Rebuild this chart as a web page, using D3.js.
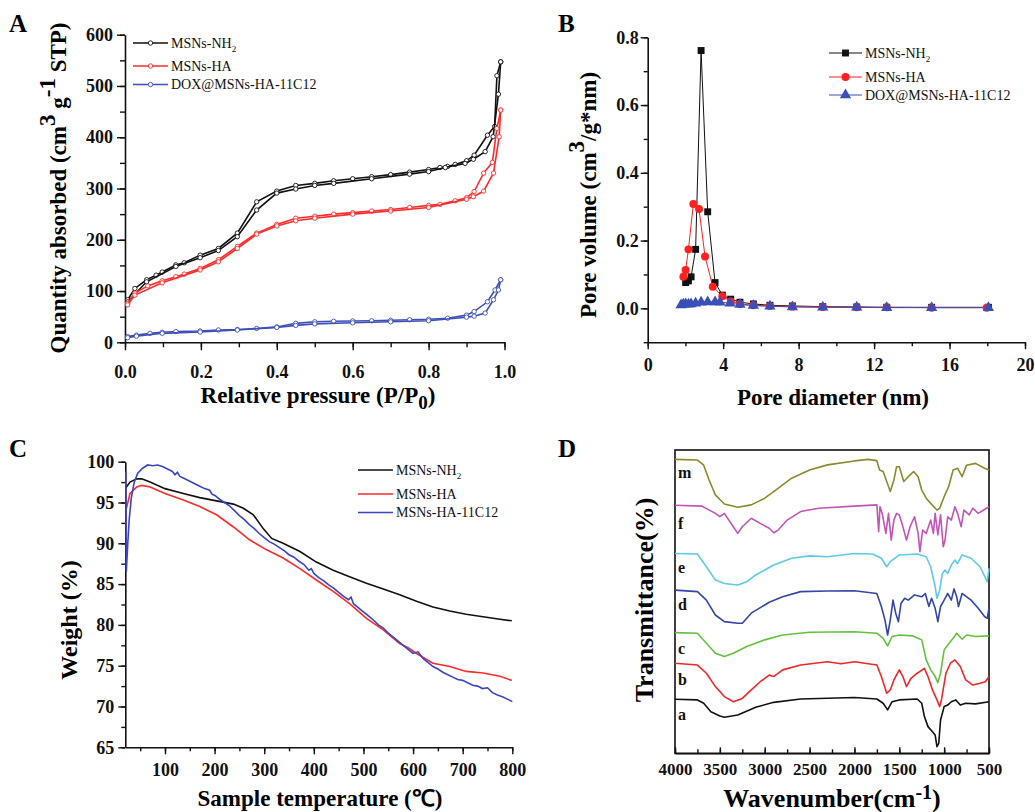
<!DOCTYPE html>
<html>
<head>
<meta charset="utf-8">
<script src="https://cdn.jsdelivr.net/npm/d3@7"></script>
<style>
  body { margin: 0; background: #fff; }
  text { font-family: "Liberation Serif", "Times New Roman", serif; }
</style>
</head>
<body>
<div id="fig"></div>
<script>
// ---------- data: panel A (N2 isotherms, [P/P0, quantity]) ----------
var nh2Ads = [[0.007,83],[0.026,105],[0.057,122],[0.082,131],[0.098,137],[0.134,151],[0.156,155],[0.198,170],[0.246,183],[0.296,213],[0.347,274],[0.4,295],[0.45,306],[0.5,310],[0.55,315],[0.6,319],[0.65,323],[0.7,327],[0.75,332],[0.8,337],[0.83,341],[0.85,343],[0.87,347],[0.9,354],[0.92,365],[0.955,404],[0.974,421],[0.98,520],[0.99,547]];
var nh2Des = [[0.99,547],[0.984,484],[0.97,401],[0.949,372],[0.918,357],[0.896,349],[0.844,341],[0.8,333],[0.75,328],[0.65,319],[0.55,310],[0.5,306],[0.45,299],[0.4,291],[0.347,258],[0.296,206],[0.246,179],[0.198,165],[0.134,148],[0.057,118],[0.007,79]];
var haAds = [[0.007,76],[0.026,96],[0.06,110],[0.098,120],[0.134,128],[0.156,133],[0.198,144],[0.246,161],[0.296,187],[0.347,213],[0.4,230],[0.45,242],[0.5,246],[0.55,250],[0.6,253],[0.65,256],[0.7,259],[0.75,263],[0.8,267],[0.83,269],[0.87,276],[0.9,282],[0.92,294],[0.945,330],[0.968,351],[0.98,417],[0.99,453]];
var haDes = [[0.99,453],[0.986,401],[0.971,330],[0.945,295],[0.918,284],[0.9,279],[0.8,263],[0.7,256],[0.6,250],[0.5,242],[0.45,237],[0.4,227],[0.347,211],[0.296,183],[0.246,157],[0.198,141],[0.098,116],[0.026,92],[0.007,73]];
var doxAds = [[0.007,11],[0.03,14],[0.066,17.5],[0.098,19.5],[0.134,21],[0.198,22],[0.246,24],[0.296,25],[0.347,27],[0.4,30],[0.45,37],[0.5,40],[0.55,41],[0.6,41.6],[0.65,42],[0.7,43],[0.75,44],[0.8,45],[0.85,47],[0.9,53],[0.92,60],[0.955,79],[0.975,102],[0.99,122]];
var doxDes = [[0.99,122],[0.984,102],[0.971,83],[0.949,57],[0.92,51],[0.9,49],[0.8,42],[0.7,40],[0.6,38],[0.5,36],[0.45,33],[0.4,29],[0.296,24],[0.198,20],[0.098,17.5],[0.03,12],[0.007,9]];

// ---------- data: panel B (pore size distribution, [nm, cm3/g*nm]) ----------
var psdNH2 = [[2.01,0.076],[2.16,0.081],[2.3,0.093],[2.54,0.174],[2.83,0.761],[3.18,0.285],[3.57,0.076],[3.96,0.039],[4.4,0.027],[4.89,0.018],[5.6,0.013],[6.48,0.009],[7.67,0.007],[9.28,0.005],[11.08,0.004],[12.67,0.003],[15.05,0.003],[18.06,0.003]];
var psdHA = [[1.89,0.093],[2.01,0.113],[2.16,0.174],[2.42,0.308],[2.72,0.293],[3.04,0.153],[3.45,0.064],[3.96,0.036],[4.4,0.02],[4.89,0.013],[5.6,0.009],[6.48,0.007],[7.67,0.005],[9.28,0.004],[11.08,0.003],[12.67,0.003],[15.05,0.002],[17.97,0.002]];
var psdDOX = [[1.77,0.01],[1.89,0.012],[2.01,0.013],[2.16,0.012],[2.3,0.013],[2.54,0.015],[2.83,0.018],[3.18,0.019],[3.57,0.019],[3.83,0.018],[4.36,0.015],[4.89,0.011],[5.6,0.008],[6.48,0.006],[7.67,0.004],[9.28,0.003],[11.08,0.003],[12.67,0.002],[15.05,0.002],[18.06,0.002]];

// ---------- data: panel C (TGA, [deg C, weight %]) ----------
var tgaNH2 = [[21.5,96.85],[29.5,97.5],[43,97.9],[53,97.9],[70,97.5],[100,96.7],[137,96.1],[170,95.6],[204,95.2],[238,94.8],[258,94.3],[278,93.5],[298,91.8],[315,90.6],[338,90.0],[372,89.0],[405,87.7],[439,86.7],[472,85.9],[506,85.1],[540,84.4],[573,83.7],[607,82.9],[640,82.2],[674,81.7],[707,81.3],[741,81.0],[775,80.7],[799,80.5]];
var tgaHA = [[21.5,94.1],[29.5,96.1],[43,96.9],[53,97.1],[70,96.9],[100,96.1],[137,95.3],[170,94.5],[204,93.5],[238,92.0],[271,90.4],[305,89.2],[338,88.2],[372,86.9],[405,85.5],[439,84.1],[472,82.6],[506,80.8],[540,79.4],[573,77.7],[590,77.2],[607,76.5],[640,75.3],[674,74.9],[707,74.3],[741,74.1],[775,73.7],[799,73.2]];
var tgaC12 = [[21,98.8],[22,86.5],[25,90],[28,93],[32,95.5],[38,97.5],[45,98.6],[55,99.2],[65,99.6],[75,99.5],[85,99.6],[95,99.4],[105,99.1],[115,98.8],[120,98.4],[125,98.7],[130,98.2],[140,97.9],[150,97.6],[160,97.3],[170,97.0],[180,96.7],[190,96.5],[195,96.0],[200,95.9],[210,95.4],[220,95.0],[230,94.6],[240,94.0],[250,93.4],[260,92.9],[270,92.3],[280,91.8],[290,91.2],[300,90.7],[310,90.2],[320,89.9],[330,89.5],[340,89.1],[350,88.6],[360,88.3],[370,87.8],[380,87.4],[390,86.7],[395,86.9],[400,86.3],[410,85.8],[420,85.4],[430,84.9],[440,84.5],[450,84.0],[460,83.5],[470,83.1],[475,83.4],[480,82.6],[490,82.1],[500,81.6],[510,81.1],[520,80.6],[530,80.0],[540,79.6],[550,79.0],[560,78.5],[570,78.0],[580,77.5],[590,77.0],[600,76.5],[610,76.7],[620,75.9],[630,75.4],[640,74.9],[650,74.6],[660,74.2],[670,73.9],[680,73.6],[690,73.3],[700,73.2],[710,72.9],[720,72.6],[730,72.5],[740,72.2],[750,72.3],[760,71.7],[770,71.4],[780,71.2],[790,70.9],[800,70.6]];

// ---------- data: panel D (FTIR, [wavenumber, offset transmittance]) ----------
var irM = [[4000,96.9],[3750,96.7],[3680,95],[3620,90.1],[3550,85.2],[3450,82.2],[3300,81.1],[3150,81.9],[3000,84.1],[2900,86.3],[2800,88.5],[2700,90.7],[2500,93.4],[2300,95.1],[2000,96.4],[1850,96.9],[1750,96.5],[1720,93.4],[1680,92.9],[1640,89.6],[1600,86.3],[1560,90.1],[1530,94.5],[1500,94.5],[1450,89.6],[1400,91.2],[1340,92.9],[1290,91.2],[1250,86.8],[1200,84.1],[1150,82.4],[1080,80.2],[1050,80.8],[1000,84.6],[950,87.9],[900,93.4],[850,94],[800,91.2],[750,95],[650,95.6],[550,94],[500,93.4]];
var irF = [[4000,81.8],[3700,81.5],[3550,79.1],[3500,78],[3450,79.1],[3350,74.7],[3300,72.5],[3250,74.7],[3150,77.5],[3050,75.8],[2950,74.2],[2900,72.7],[2850,73.6],[2750,76.9],[2600,79.7],[2400,80.8],[2000,81.5],[1750,81.9],[1730,73.1],[1715,81.3],[1690,79.1],[1650,72.5],[1620,79.1],[1590,70.3],[1560,76.9],[1530,79.1],[1500,78.6],[1470,75.8],[1420,70.3],[1380,74.7],[1330,78],[1290,72.5],[1270,66.5],[1240,73.6],[1200,72.5],[1150,76.9],[1120,72.5],[1100,79.1],[1070,72],[1040,78.6],[1010,68.1],[990,70.3],[960,78],[920,76.9],[880,81.3],[850,79.1],[810,74.7],[780,80.2],[720,78.6],[680,80.8],[620,79.1],[560,80.2],[500,81.3]];
var irE = [[4000,65.9],[3750,65.7],[3650,61.5],[3550,57.1],[3450,56],[3300,55.5],[3200,56.6],[3100,58.8],[2900,62.1],[2700,64.3],[2500,65.1],[2300,64.8],[2000,65.9],[1800,65.7],[1700,64.3],[1640,61.5],[1600,63.2],[1500,65.4],[1300,65.7],[1200,64.8],[1150,61.5],[1100,54.9],[1080,51.1],[1050,53.8],[1020,59.3],[990,60.4],[960,59.3],[920,62.1],[880,63.7],[850,62.6],[800,65.4],[700,64.3],[600,61.5],[520,56.6],[500,61]];
var irD = [[4000,53.8],[3750,53.3],[3650,50.5],[3550,45.6],[3450,43.4],[3300,42.9],[3250,42.9],[3150,46.2],[3000,48.9],[2950,49.8],[2800,51.6],[2600,53.3],[2300,53.5],[2000,53.6],[1750,52.7],[1700,48.4],[1660,44],[1630,39],[1600,44],[1570,50.5],[1540,46.2],[1510,43.4],[1480,49.5],[1440,51.1],[1400,50.5],[1330,52.2],[1250,51.6],[1210,52.7],[1170,48.4],[1140,51.1],[1100,47.8],[1070,43.4],[1040,48.4],[1000,50.5],[960,52.7],[920,50.5],[890,54.2],[860,51.6],[840,48.4],[800,52.7],[700,50.5],[620,47.8],[550,45.1],[520,44.5],[500,47.8]];
var irC = [[4000,39.8],[3750,39.6],[3650,36.3],[3550,33],[3450,31.9],[3350,33],[3200,35.2],[3000,37.4],[2800,39],[2500,39.9],[2000,40.1],[1750,39.6],[1680,37.9],[1630,35.4],[1580,38.5],[1500,39],[1350,38.7],[1250,37.4],[1200,30.8],[1150,27.5],[1100,25.3],[1070,23.3],[1040,26.4],[1000,34.1],[960,35.7],[900,37.9],[860,39.6],[800,37.6],[750,39],[650,38.5],[500,38.7]];
var irB = [[4000,29.7],[3750,29.1],[3650,26.4],[3550,22],[3450,18.7],[3350,17],[3250,18.1],[3150,20.9],[3050,23.6],[2950,25.8],[2900,25.3],[2800,27.5],[2600,29.1],[2300,30.2],[2150,29.5],[2000,30.2],[1750,29.1],[1700,25.3],[1640,19.8],[1600,20.9],[1560,24.2],[1500,27.5],[1460,25.3],[1420,22],[1370,24.7],[1300,26.4],[1220,28],[1180,25.3],[1130,20.9],[1080,17.6],[1050,15.4],[1030,17.6],[980,26.4],[930,29.7],[880,30.8],[820,28.6],[760,24.2],[680,22.5],[600,23.1],[540,23.6],[500,25.3]];
var irA = [[4000,17.8],[3750,17.6],[3680,16.5],[3600,13.7],[3500,12.3],[3450,11.9],[3300,12.6],[3100,15.2],[2900,16.8],[2600,17.9],[2000,18.4],[1750,17.9],[1680,16.5],[1630,14.3],[1580,17.0],[1500,17.6],[1300,17.9],[1250,16.5],[1220,12.1],[1180,8.8],[1130,7.1],[1100,6],[1080,2.2],[1060,3.3],[1040,11],[1000,15.4],[960,15.9],[920,17],[870,17.6],[820,15.9],[760,16.5],[650,16.3],[500,17]];

var irLabels = ["m", "f", "e", "d", "c", "b", "a"];
var irSeries = [irM, irF, irE, irD, irC, irB, irA];
var irColors = ["#8a8a2e", "#c255b6", "#5ccbe3", "#3545a8", "#64c040", "#f02828", "#111111"];

var svg = d3.select("#fig").append("svg")
  .attr("width", 1035)
  .attr("height", 812);

svg.append("rect").attr("width", 1035).attr("height", 812).attr("fill", "#fff");

// draws one axis with major + minor ticks
function addAxis(orient, scale, major, minor, o) {
  var mk = orient === "bottom" ? d3.axisBottom : d3.axisLeft;
  var gMin = svg.append("g").attr("transform", o.t)
    .call(mk(scale).tickValues(minor).tickSize(o.minor).tickSizeOuter(0).tickFormat(""));
  gMin.select(".domain").remove();
  var gMaj = svg.append("g").attr("transform", o.t)
    .call(mk(scale).tickValues(major).tickSize(o.major).tickSizeOuter(0).tickPadding(o.pad).tickFormat(o.fmt));
  svg.selectAll("g .tick line").attr("stroke-width", 1.4).attr("stroke", "#111");
  gMaj.select(".domain").attr("stroke-width", 1.6).attr("stroke", "#111");
  gMaj.selectAll("text")
    .attr("font-family", '"Liberation Serif", "Times New Roman", serif')
    .attr("font-weight", "bold")
    .attr("font-size", o.fs)
    .attr("fill", "#111");
  return gMaj;
}

function panelLabel(txt, x, y) {
  svg.append("text").attr("x", x).attr("y", y)
    .attr("font-size", 25).attr("font-weight", "bold").text(txt);
}

// text made of parts: [string, dy shift, font size]
function richText(x, y, parts, size, rotate) {
  var t = svg.append("text")
    .attr("font-size", size).attr("font-weight", "bold")
    .attr("text-anchor", "middle");
  if (rotate) t.attr("transform", "translate(" + x + "," + y + ") rotate(-90)");
  else t.attr("x", x).attr("y", y);
  var shift = 0;
  parts.forEach(function(p) {
    var dy = (p[1] || 0) - shift;
    shift = p[1] || 0;
    var s = t.append("tspan").attr("dy", dy).text(p[0]);
    if (p[2]) s.attr("font-size", p[2]);
  });
  return t;
}

function legendRow(x0, x1, y, color, label, sub, marker, lw) {
  svg.append("line").attr("x1", x0).attr("x2", x1).attr("y1", y).attr("y2", y)
    .attr("stroke", color).attr("stroke-width", lw || 1);
  if (marker) marker((x0 + x1) / 2, y);
  var t = svg.append("text").attr("x", x1 + 3).attr("y", y).attr("dy", "0.35em")
    .attr("font-size", 14).attr("fill", "#111").text(label);
  if (sub) t.append("tspan").attr("dy", 4).attr("font-size", 9).text(sub);
}

// ================= Panel A =================
var xA = d3.scaleLinear().domain([0, 1]).range([125, 504.5]);
var yA = d3.scaleLinear().domain([0, 600]).range([342.3, 34.7]);

addAxis("bottom", xA, d3.range(0, 1.01, 0.2), d3.range(0, 1.01, 0.1),
  { t: "translate(0,342.3)", major: 8, minor: 5, pad: 15, fmt: d3.format(".1f"), fs: 18 });
addAxis("left", yA, d3.range(0, 601, 100), d3.range(0, 601, 50),
  { t: "translate(125,0)", major: 8, minor: 5, pad: 4, fmt: d3.format("d"), fs: 18 });

var lineA = d3.line().x(d => xA(d[0])).y(d => yA(d[1]));
var isoSets = [
  { data: [nh2Ads, nh2Des], color: "#111111" },
  { data: [haAds, haDes], color: "#ff2b2b" },
  { data: [doxAds, doxDes], color: "#3f4fb8" }
];
isoSets.forEach(function(s) {
  s.data.forEach(function(branch) {
    svg.append("path").datum(branch).attr("d", lineA)
      .attr("fill", "none").attr("stroke", s.color).attr("stroke-width", 1.6);
    svg.append("g").selectAll("circle").data(branch).enter().append("circle")
      .attr("cx", d => xA(d[0])).attr("cy", d => yA(d[1])).attr("r", 2.2)
      .attr("fill", "#fff").attr("stroke", s.color).attr("stroke-width", 0.9);
  });
});

function openCircle(color) {
  return function(cx, cy) {
    svg.append("circle").attr("cx", cx).attr("cy", cy).attr("r", 2.2)
      .attr("fill", "#fff").attr("stroke", color).attr("stroke-width", 0.9);
  };
}
legendRow(133, 168, 43, "#111111", "MSNs-NH", "2", openCircle("#111111"), 1.6);
legendRow(133, 168, 66, "#ff2b2b", "MSNs-HA", null, openCircle("#ff2b2b"), 1.6);
legendRow(133, 168, 84.5, "#3f4fb8", "DOX@MSNs-HA-11C12", null, openCircle("#3f4fb8"), 1.6);

richText(66, 188, [["Quantity absorbed (cm"], ["3", -11], [" g", 0], ["-1", -11], [" STP)", 0]], 23, true);
richText(318, 403, [["Relative pressure (P/P"], ["0", 6, 19], [")", 0]], 23, false);
panelLabel("A", 9, 32);

// ================= Panel B =================
var xB = d3.scaleLinear().domain([0, 20]).range([647.7, 1025]);
var yB = d3.scaleLinear().domain([-0.1, 0.8]).range([342.2, 37.3]);

addAxis("bottom", xB, d3.range(0, 21, 4), d3.range(0, 21, 2),
  { t: "translate(0,342.2)", major: 7, minor: 4, pad: 9, fmt: d3.format("d"), fs: 18 });
addAxis("left", yB, [0, 0.2, 0.4, 0.6, 0.8], [-0.1, 0, 0.1, 0.2, 0.3, 0.4, 0.5, 0.6, 0.7, 0.8],
  { t: "translate(647.7,0)", major: 7, minor: 4, pad: 2, fmt: d3.format(".1f"), fs: 18 });

var lineB = d3.line().x(d => xB(d[0])).y(d => yB(d[1]));
var psdSets = [
  { data: psdNH2, color: "#111111", sym: d3.symbolSquare, size: 48 },
  { data: psdHA, color: "#ff2020", sym: d3.symbolCircle, size: 50 },
  { data: psdDOX, color: "#3a4fb8", sym: d3.symbolTriangle, size: 55 }
];
psdSets.forEach(function(s) {
  svg.append("path").datum(s.data).attr("d", lineB)
    .attr("fill", "none").attr("stroke", s.color).attr("stroke-width", 1);
});
psdSets.forEach(function(s) {
  svg.append("g").selectAll("path").data(s.data).enter().append("path")
    .attr("d", d3.symbol().type(s.sym).size(s.size))
    .attr("transform", d => "translate(" + xB(d[0]) + "," + yB(d[1]) + ")")
    .attr("fill", s.color);
});
psdSets.forEach(function(s, i) {
  var names = ["MSNs-NH", "MSNs-HA", "DOX@MSNs-HA-11C12"];
  var rows = [53, 77, 95];
  legendRow(829, 862, rows[i], s.color, names[i], i === 0 ? "2" : null, function(cx, cy) {
    svg.append("path").attr("d", d3.symbol().type(s.sym).size(s.size))
      .attr("transform", "translate(" + cx + "," + cy + ")").attr("fill", s.color);
  }, 1);
});

richText(596, 195, [["Pore volume (cm"], ["3", -12], ["/g*nm)", 0]], 23, true);
richText(833, 405, [["Pore diameter (nm)"]], 23, false);
panelLabel("B", 558, 32);

// ================= Panel C =================
var xC = d3.scaleLinear().domain([20, 800]).range([125.3, 512.3]);
var yC = d3.scaleLinear().domain([65, 100]).range([747.3, 461.7]);

addAxis("bottom", xC, d3.range(100, 801, 100), d3.range(50, 801, 50),
  { t: "translate(0,747.3)", major: 7, minor: 4, pad: 9, fmt: d3.format("d"), fs: 18 });
addAxis("left", yC, d3.range(65, 101, 5), d3.range(65, 101, 2.5),
  { t: "translate(125.3,0)", major: 7, minor: 4, pad: 4, fmt: d3.format("d"), fs: 18 });

var lineC = d3.line().x(d => xC(d[0])).y(d => yC(d[1]));
var tgaSets = [
  { data: tgaNH2, color: "#111111", name: "MSNs-NH", sub: "2" },
  { data: tgaHA, color: "#ff2a2a", name: "MSNs-HA" },
  { data: tgaC12, color: "#3a44c6", name: "MSNs-HA-11C12" }
];
tgaSets.forEach(function(s, i) {
  svg.append("path").datum(s.data).attr("d", lineC)
    .attr("fill", "none").attr("stroke", s.color).attr("stroke-width", 1.6);
  legendRow(358, 393, [470, 494, 512.5][i], s.color, s.name, s.sub, null, 1.6);
});

richText(77, 620, [["Weight (%)"]], 24, true);
richText(320, 806, [["Sample temperature (\u2103)"]], 23, false);
panelLabel("C", 9, 457);

// ================= Panel D =================
var xD = d3.scaleLinear().domain([4000, 500]).range([675, 989]);
var yD = d3.scaleLinear().domain([0, 100]).range([753.3, 450]);

svg.append("rect").attr("x", 675).attr("y", 450).attr("width", 314).attr("height", 303.3)
  .attr("fill", "none").attr("stroke", "#111").attr("stroke-width", 1.6);
addAxis("bottom", xD, d3.range(4000, 499, -500), d3.range(4000, 499, -250),
  { t: "translate(0,753.3)", major: -6, minor: -4, pad: 10, fmt: d3.format("d"), fs: 17 });

var lineD = d3.line().x(d => xD(d[0])).y(d => yD(d[1]));
irSeries.forEach(function(s, i) {
  svg.append("path").datum(s).attr("d", lineD)
    .attr("fill", "none").attr("stroke", irColors[i]).attr("stroke-width", 1.6)
    .attr("stroke-linejoin", "round");
});
var irLabelY = [472, 523, 567, 604, 648, 679, 714];
irLabels.forEach(function(l, i) {
  svg.append("text").attr("x", 678).attr("y", irLabelY[i]).attr("dy", "0.35em")
    .attr("font-size", 16).attr("font-weight", "bold").attr("fill", "#111").text(l);
});

richText(653, 600, [["Transmittance(%)"]], 26, true);
richText(832, 807, [["Wavenumber(cm"], ["-1", -8, 20], [")", 0]], 26, false);
panelLabel("D", 558, 457);
</script>
</body>
</html>
